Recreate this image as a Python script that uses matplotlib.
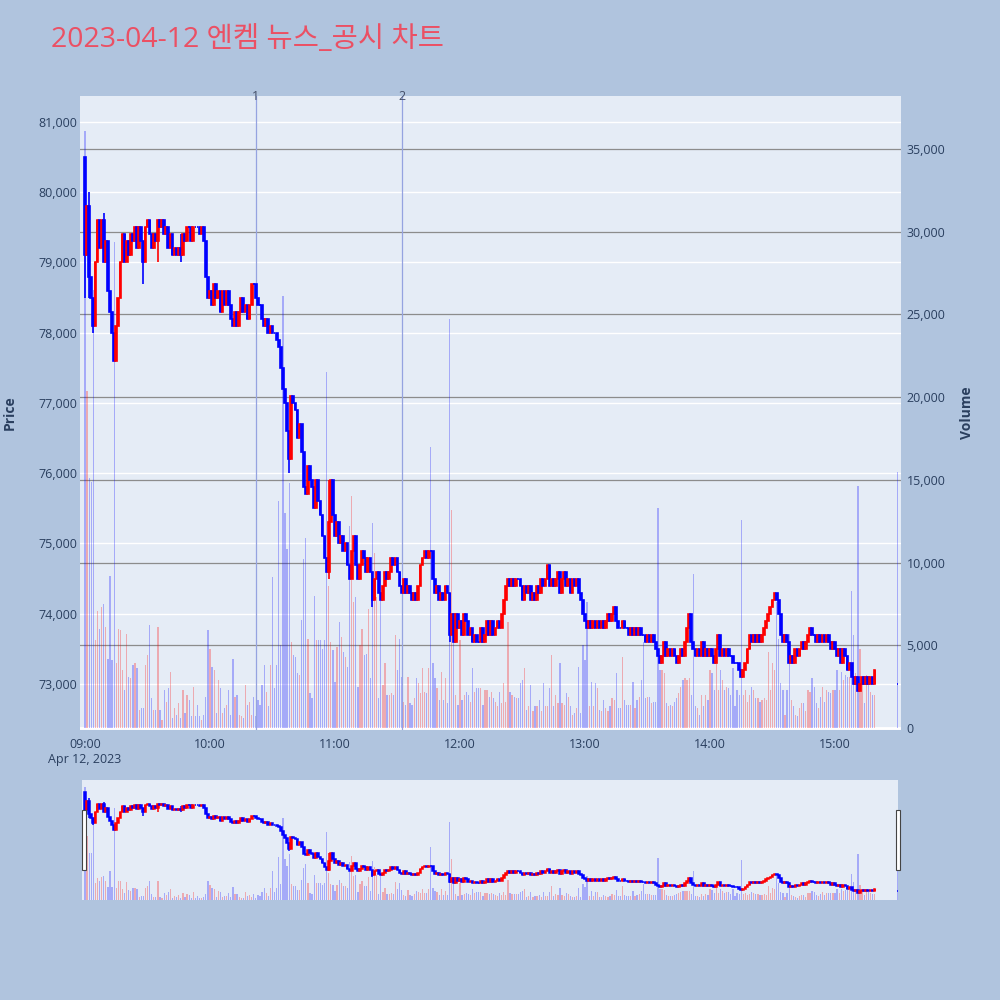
import numpy as np
import matplotlib.pyplot as plt
from matplotlib.patches import Rectangle

plt.rcParams['font.family'] = ['Open Sans', 'Noto Sans CJK KR', 'DejaVu Sans']

# ---- data (prices in units of 100 KRW, one value per minute from 09:00) ----
close_100 = [
    791, 798, 788, 785, 781, 790, 796, 792, 796, 790,   # 09:00
    793, 786, 783, 780, 776, 781, 785, 790, 794, 790,
    793, 791, 794, 793, 795, 792, 795, 793, 790, 795,
    796, 794, 792, 794, 793, 796, 795, 796, 794, 795,
    792, 794, 791, 792, 791, 792, 791, 794, 793, 795,
    795, 793, 795, 795, 795, 794, 795, 793, 788, 785,
    786, 784, 787, 785, 786, 783, 786, 784, 786, 784,   # 10:00
    782, 781, 783, 781, 783, 785, 783, 784, 782, 784,
    787, 787, 785, 784, 784, 782, 781, 782, 780, 781,
    780, 780, 779, 778, 775, 772, 770, 766, 762, 771,
    770, 769, 765, 767, 763, 758, 757, 761, 759, 758,
    755, 759, 756, 754, 751, 748, 746, 753, 759, 754,
    751, 753, 750, 751, 749, 750, 747, 745, 749, 751,   # 11:00
    747, 745, 747, 749, 748, 746, 748, 746, 742, 745,
    746, 743, 742, 744, 746, 745, 746, 748, 747, 748,
    746, 744, 743, 745, 743, 744, 743, 742, 743, 742,
    744, 747, 748, 749, 748, 749, 749, 745, 743, 744,
    742, 743, 742, 744, 743, 737, 740, 736, 740, 738,
    739, 737, 740, 739, 737, 738, 736, 737, 736, 736,   # 12:00
    738, 736, 737, 739, 737, 739, 737, 738, 739, 738,
    740, 742, 744, 745, 744, 745, 744, 745, 745, 744,
    742, 744, 743, 744, 742, 743, 742, 744, 743, 745,
    744, 745, 747, 744, 745, 744, 745, 746, 743, 745,
    746, 744, 745, 743, 745, 744, 745, 743, 742, 740,
    739, 738, 739, 738, 739, 738, 739, 738, 739, 738,   # 13:00
    739, 740, 739, 740, 741, 739, 738, 738, 739, 738,
    738, 737, 738, 737, 738, 737, 738, 737, 737, 736,
    737, 736, 737, 736, 735, 734, 733, 734, 736, 734,
    735, 734, 735, 734, 733, 734, 735, 734, 736, 738,
    740, 736, 735, 734, 735, 734, 736, 734, 735, 734,
    735, 734, 733, 735, 737, 734, 735, 734, 735, 734,   # 14:00
    734, 733, 733, 733, 732, 731, 732, 733, 735, 737,
    736, 737, 736, 737, 736, 737, 738, 739, 740, 741,
    742, 743, 742, 740, 737, 736, 737, 736, 733, 734,
    733, 735, 734, 735, 736, 735, 736, 737, 738, 737,
    737, 736, 737, 736, 737, 736, 737, 736, 735, 736,
    735, 734, 735, 733, 735, 734, 732, 733, 731, 730,   # 15:00
    731, 729, 730, 731, 730, 731, 730, 731, 730, 732,
]
first_open_100 = 805

volumes = [
    36100, 20400, 15100, 14900, 26500, 5300, 7100, 6000, 7300, 7500,
    6100, 4200, 9200, 4100, 29400, 3900, 6000, 5900, 3500, 2300,
    5700, 3100, 3000, 3800, 3900, 3600, 1100, 1200, 1200, 3800,
    4400, 6200, 1800, 1100, 1100, 6100, 1100, 500, 2300, 1600,
    2400, 3400, 600, 1200, 800, 1500, 600, 2300, 900, 2000,
    1700, 700, 2500, 700, 1400, 700, 500, 800, 1900, 5900,
    4800, 3700, 3500, 900, 2900, 2400, 900, 1200, 1400, 2300,
    800, 4200, 1900, 2000, 800, 700, 600, 2600, 1400, 1600,
    800, 1900, 700, 1700, 1400, 2600, 3800, 2200, 1300, 3800,
    9100, 2400, 3800, 13700, 5000, 26100, 13000, 10800, 14800, 5200,
    4400, 4300, 3300, 3200, 6500, 10200, 11500, 5400, 2100, 1800,
    8000, 5300, 5300, 5300, 4800, 5300, 21500, 8600, 5200, 4700,
    2800, 4900, 6400, 5500, 4600, 4300, 3700, 12200, 14000, 7600,
    7900, 2500, 5000, 6000, 4400, 4500, 7200, 3000, 12400, 10600,
    7900, 1800, 7700, 2600, 3900, 2000, 2000, 2100, 2000, 5600,
    3500, 5400, 3100, 1600, 1400, 3100, 1500, 1400, 1800, 3000,
    2700, 2100, 3600, 2200, 2100, 3600, 17000, 3900, 3000, 2400,
    1700, 3400, 1700, 3000, 1500, 24700, 13200, 5300, 2000, 1400,
    5300, 1700, 2000, 2200, 2000, 1600, 3600, 2200, 2400, 2400,
    2400, 1400, 2300, 2300, 1900, 2200, 1800, 1600, 1300, 2200,
    1500, 2700, 1600, 6400, 2200, 2000, 1900, 1800, 1800, 2700,
    2900, 3600, 1100, 1300, 2600, 1000, 1300, 1300, 1700, 1000,
    2700, 1300, 1300, 2400, 4400, 1300, 2000, 1500, 3900, 1500,
    1400, 2100, 1900, 1300, 800, 900, 1200, 3700, 900, 5000,
    4100, 7600, 1300, 2800, 1300, 2700, 2400, 1100, 1000, 1700,
    1200, 1000, 1300, 1800, 1700, 3300, 1200, 1200, 4300, 1700,
    1400, 1400, 1400, 2800, 1200, 1700, 1900, 2900, 5200, 1800,
    1900, 1900, 1500, 1600, 1600, 13300, 3500, 3500, 3300, 1500,
    1300, 1400, 1300, 1600, 1800, 2100, 2500, 2900, 3000, 2900,
    3000, 2000, 9300, 1300, 1200, 800, 2000, 1300, 2000, 1700,
    3500, 3300, 2300, 4000, 2300, 3500, 2900, 2300, 2500, 2400,
    2000, 3600, 1300, 2300, 2000, 12600, 2000, 2300, 1600, 2000,
    2500, 2300, 1800, 1800, 1600, 1700, 1800, 1700, 4600, 2300,
    3900, 3500, 7600, 5400, 2700, 2300, 800, 2300, 5700, 1700,
    1300, 800, 700, 1200, 1500, 1500, 1000, 2300, 2200, 3000,
    2500, 1500, 1200, 1900, 2500, 1600, 2300, 2200, 2100, 2300,
    2300, 3500, 2300, 3400, 2900, 3200, 3100, 3100, 8300, 5600,
    3300, 14600, 4800, 2600, 1500, 3200, 2600, 2200, 2000, 2000,
]

# closing auction print at 15:30
auction_minute = 390
auction_price_100 = 730
auction_volume = 15500

# minutes with visible wicks beyond the body
wick_minutes = [0, 2, 4, 9, 28, 35, 46, 98, 117, 138, 175, 331, 371]
wick_highs_100 = [805, 800, 785, 797, 793, 796, 794, 766, 759, 746, 743, 743, 731]
wick_lows_100 = [785, 785, 780, 790, 787, 790, 790, 760, 745, 741, 736, 742, 729]

# news / disclosure markers
event_labels = ['1', '2']
event_minutes = [82, 152]

tick_minutes = [0, 60, 120, 180, 240, 300, 360]
tick_labels = ['09:00', '10:00', '11:00', '12:00', '13:00', '14:00', '15:00']
price_ticks = list(range(73000, 81001, 1000))
volume_ticks = list(range(0, 35001, 5000))

title = '2023-04-12 엔켐 뉴스_공시 차트'

# ---- build OHLC ----
minutes = np.append(np.arange(len(close_100)), auction_minute)
closes = np.array(close_100 + [auction_price_100], dtype=float) * 100
opens = np.array([first_open_100] + close_100[:-1] + [auction_price_100], dtype=float) * 100
vols = np.array(volumes + [auction_volume], dtype=float)
highs = np.maximum(opens, closes)
lows = np.minimum(opens, closes)
for m, hi, lo in zip(wick_minutes, wick_highs_100, wick_lows_100):
    highs[m] = max(highs[m], hi * 100)
    lows[m] = min(lows[m], lo * 100)
colors = np.where(closes > opens, 'red', 'blue')

BG = '#B0C4DE'
PLOT_BG = '#E5ECF6'
TXT = '#2a3f5f'

PRICE_LIM = (72345, 81370)
VOL_LIM = (-121, 38203)
XLIM = (-2.4, 391.7)


def price_to_vol(p):
    return VOL_LIM[0] + (p - PRICE_LIM[0]) / (PRICE_LIM[1] - PRICE_LIM[0]) * (VOL_LIM[1] - VOL_LIM[0])


def draw_candles(ax, body_w, lw):
    ax.vlines(minutes, lows, highs, colors=colors, linewidth=lw, zorder=3)
    ax.bar(minutes, closes - opens, bottom=opens, width=body_w, color=colors,
           edgecolor=colors, linewidth=lw, zorder=4)


fig = plt.figure(figsize=(10, 10), dpi=100, facecolor=BG)

# ---- main chart: volume axis underneath, price axis on top ----
rect = [0.080, 0.270, 0.821, 0.634]
axv = fig.add_axes(rect)
axp = fig.add_axes(rect, sharex=axv)
axv.set_facecolor(PLOT_BG)
axp.patch.set_visible(False)
axv.set_zorder(1)
axp.set_zorder(2)

# price grid (white) drawn under the volume bars
for p in price_ticks:
    axv.axhline(price_to_vol(p), color='white', linewidth=1.0, zorder=0.5)
for v in volume_ticks[1:]:
    axv.axhline(v, color='#8c8c8c', linewidth=0.9, zorder=0.6)
axv.axhline(0, color='white', linewidth=2, zorder=0.7)

axv.bar(minutes, vols, width=0.6, color=colors, alpha=0.28, linewidth=0, zorder=1)

for lab, m in zip(event_labels, event_minutes):
    axv.axvline(m, color='#95a3e0', linewidth=0.9, zorder=1.5)
    axp.text(m, 1.0, lab, transform=axp.get_xaxis_transform(), ha='center', va='center',
             fontsize=9, color='#44506a')

draw_candles(axp, 0.85, 1.2)

axp.set_xlim(*XLIM)
axp.set_ylim(*PRICE_LIM)
axv.set_ylim(*VOL_LIM)

axp.set_yticks(price_ticks)
axp.set_yticklabels([f'{p:,}' for p in price_ticks])
axv.yaxis.tick_right()
axv.set_yticks(volume_ticks)
axv.set_yticklabels([f'{v:,}' for v in volume_ticks])
axv.set_xticks(tick_minutes)
axv.set_xticklabels(tick_labels)
axp.tick_params(axis='x', labelbottom=False, length=0)
axv.tick_params(axis='x', length=0, pad=6, labelsize=9, labelcolor=TXT)
axp.tick_params(axis='y', length=0, pad=2, labelsize=9, labelcolor=TXT)
axv.tick_params(axis='y', length=0, pad=4, labelsize=9, labelcolor=TXT)
for ax in (axv, axp):
    for s in ax.spines.values():
        s.set_visible(False)

axv.annotate('Apr 12, 2023', xy=(0, 0), xycoords=('data', 'axes fraction'),
             xytext=(0, -21), textcoords='offset points', ha='center', va='center',
             fontsize=9, color=TXT)

fig.text(0.010, 1 - 0.413, 'Price', rotation=90, ha='center', va='center',
         fontsize=10, fontweight='bold', color=TXT)
fig.text(0.967, 1 - 0.413, 'Volume', rotation=90, ha='center', va='center',
         fontsize=10, fontweight='bold', color=TXT)

fig.text(0.051, 1 - 0.040, title, ha='left', va='center', fontsize=20.5,
         color='#EB5064', family=['Open Sans', 'Noto Sans CJK KR', 'DejaVu Sans'])

# ---- range slider ----
srect = [0.082, 0.100, 0.816, 0.120]
sv = fig.add_axes(srect)
sp = fig.add_axes(srect, sharex=sv)
sv.set_facecolor(PLOT_BG)
sp.patch.set_visible(False)
sv.set_zorder(1)
sp.set_zorder(2)
sv.bar(minutes, vols, width=0.6, color=colors, alpha=0.28, linewidth=0)
draw_candles(sp, 0.85, 1.1)
sp.set_xlim((82 - 85) / 2.0833, (898 - 85) / 2.0833)
sp.set_ylim(*PRICE_LIM)
sv.set_ylim(0, VOL_LIM[1])
for ax in (sv, sp):
    ax.set_xticks([])
    ax.set_yticks([])
    for s in ax.spines.values():
        s.set_visible(False)

# slider handles
for x0 in (0.0815, 0.8955):
    fig.patches.append(Rectangle((x0, 1 - 0.870), 0.004, 0.060, transform=fig.transFigure,
                                 facecolor='white', edgecolor='#444444', linewidth=0.8, zorder=5))

fig.savefig('out.png', dpi=100, facecolor=BG)
